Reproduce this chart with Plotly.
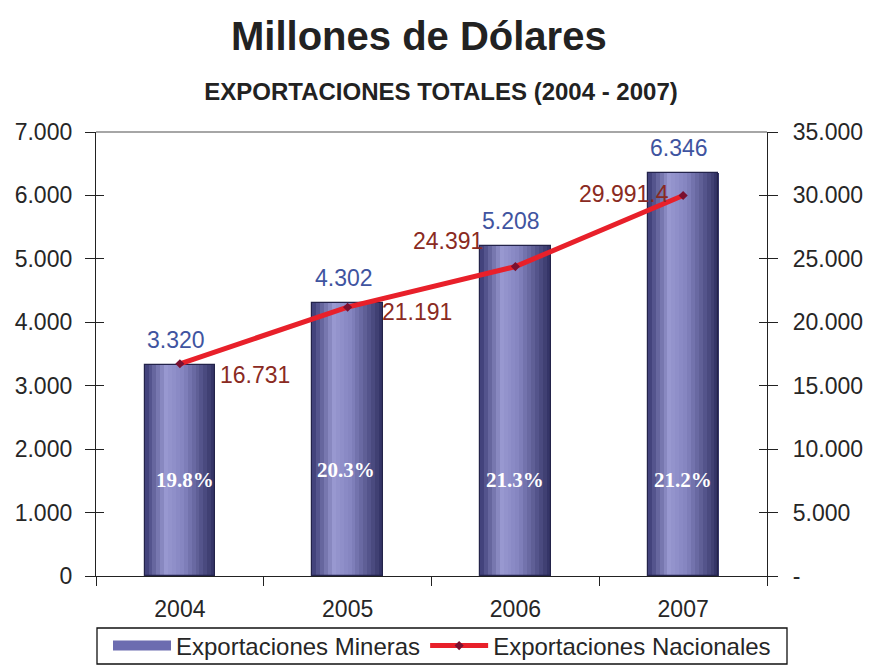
import plotly.graph_objects as go

# ---- data ----
years = ["2004", "2005", "2006", "2007"]
mineras = [3320, 4302, 5208, 6346]
nacionales = [16731, 21191, 24391, 29991.4]
mineras_labels = ["3.320", "4.302", "5.208", "6.346"]
nacionales_labels = ["16.731", "21.191", "24.391", "29.991.4"]
share_labels = ["19.8%", "20.3%", "21.3%", "21.2%"]
left_ticks = [0, 1000, 2000, 3000, 4000, 5000, 6000, 7000]
left_ticktext = ["0", "1.000", "2.000", "3.000", "4.000", "5.000", "6.000", "7.000"]
right_ticks = [0, 5000, 10000, 15000, 20000, 25000, 30000, 35000]
right_ticktext = ["-", "5.000", "10.000", "15.000", "20.000", "25.000", "30.000", "35.000"]

# ---- styles ----
BAR_W = 0.42
N_STRIPS = 18
stops = [(0.0, (58, 58, 115)), (0.3, (152, 152, 208)), (0.55, (132, 132, 192)), (1.0, (48, 48, 98))]


def grad(t):
    for (t0, c0), (t1, c1) in zip(stops[:-1], stops[1:]):
        if t0 <= t <= t1:
            f = (t - t0) / (t1 - t0)
            return "rgb(%d,%d,%d)" % tuple(round(a + (b - a) * f) for a, b in zip(c0, c1))
    return "rgb(%d,%d,%d)" % stops[-1][1]


FONT = "Liberation Sans, Arial, sans-serif"
TXT = "#262626"
nac_anchor = ["left", "left", "right", "right"]
nac_xshift = [38, 32, -30, -12]
nac_yshift = [-11, -5, 26, 2]
share_yshift = [96, 106, 96, 96]
share_xshift = [5, -2, 0, 0]

fig = go.Figure()

sw = BAR_W / N_STRIPS
for i in range(N_STRIPS):
    fig.add_trace(go.Bar(
        x=years, y=mineras, width=sw * 1.05, offset=-BAR_W / 2 + i * sw,
        marker=dict(color=grad((i + 0.5) / N_STRIPS), line=dict(width=0)),
        showlegend=False, hoverinfo="skip"))
fig.add_trace(go.Bar(
    x=years, y=mineras, width=BAR_W, offset=-BAR_W / 2,
    marker=dict(color="rgba(0,0,0,0)", line=dict(color="#23234a", width=1.2)),
    name="Exportaciones Mineras", showlegend=False))

# legend swatch for the bars (thick line looks like the flat bar swatch)
fig.add_trace(go.Scatter(
    x=[None], y=[None], mode="lines", name="Exportaciones Mineras",
    line=dict(color="#6c6cb0", width=12), showlegend=True))

fig.add_trace(go.Scatter(
    x=years, y=nacionales, mode="lines+markers", name="Exportaciones Nacionales",
    line=dict(color="#e8202a", width=5),
    marker=dict(symbol="diamond", size=7, color="#7a1030"),
    yaxis="y2"))

# invisible traces carrying the inside-tick overlay axes
fig.add_trace(go.Scatter(x=years, y=mineras, mode="markers", marker=dict(opacity=0),
                         showlegend=False, hoverinfo="skip", yaxis="y3"))
fig.add_trace(go.Scatter(x=years, y=nacionales, mode="markers", marker=dict(opacity=0),
                         showlegend=False, hoverinfo="skip", yaxis="y4"))

ann = []
for i, (v, t) in enumerate(zip(mineras, mineras_labels)):
    ann.append(dict(x=i, y=v, xref="x", yref="y", text=t, showarrow=False,
                    yshift=25, xshift=-4, font=dict(family=FONT, size=23, color="#3f54a0")))
for i, (v, t, a, xs, ys) in enumerate(zip(nacionales, nacionales_labels, nac_anchor, nac_xshift, nac_yshift)):
    ann.append(dict(x=i, y=v, xref="x", yref="y2", text=t, showarrow=False,
                    xanchor=a, xshift=xs, yshift=ys,
                    font=dict(family=FONT, size=23, color="#8a2a22")))
for i, (t, ys, xs) in enumerate(zip(share_labels, share_yshift, share_xshift)):
    ann.append(dict(x=i, y=0, xref="x", yref="y", text="<b>%s</b>" % t, showarrow=False,
                    yshift=ys, xshift=xs,
                    font=dict(family="Liberation Serif, Times New Roman, serif", size=21, color="white")))
ann.append(dict(x=(419 - 96) / 671, y=1.216, xref="paper", yref="paper", xanchor="center",
                yanchor="middle", showarrow=False, text="<b>Millones de Dólares</b>",
                font=dict(family=FONT, size=40, color="#222222")))

fig.update_layout(
    width=874, height=667,
    margin=dict(l=96, r=107, t=132, b=91),
    paper_bgcolor="white", plot_bgcolor="white",
    barmode="overlay", bargap=0,
    showlegend=True,
    legend=dict(orientation="h", xref="container", yref="container",
                x=442 / 874, xanchor="center", y=(667 - 646) / 667, yanchor="middle",
                bgcolor="rgba(0,0,0,0)", borderwidth=0, font=dict(family=FONT, size=24, color=TXT),
                itemwidth=58, tracegroupgap=0, traceorder="normal"),
    xaxis=dict(type="category", tickson="boundaries", ticks="outside", ticklen=9, tickwidth=1.3,
               tickcolor="#222222", showline=True, linecolor="#222222", linewidth=1.3,
               showgrid=False, tickfont=dict(family=FONT, size=23, color=TXT),
               ticklabelstandoff=12, range=[-0.5, 3.5], automargin=False),
    yaxis=dict(range=[0, 7000], tickvals=left_ticks, ticktext=left_ticktext, ticks="outside",
               ticklen=10, tickwidth=1.3, tickcolor="#222222", showline=True, linecolor="#222222",
               linewidth=1.3, showgrid=False, zeroline=False, ticklabelstandoff=8, automargin=False,
               tickfont=dict(family=FONT, size=23, color=TXT)),
    yaxis2=dict(range=[0, 35000], tickvals=right_ticks, ticktext=right_ticktext, overlaying="y",
                side="right", ticks="outside", ticklen=10, tickwidth=1.3, tickcolor="#222222",
                showline=True, linecolor="#222222", linewidth=1.3, showgrid=False, zeroline=False,
                ticklabelstandoff=10, automargin=False, tickfont=dict(family=FONT, size=23, color=TXT)),
    yaxis3=dict(range=[0, 7000], tickvals=left_ticks, overlaying="y", side="left", ticks="inside",
                ticklen=8, tickwidth=1.3, tickcolor="#222222", showticklabels=False,
                showline=False, showgrid=False, zeroline=False),
    yaxis4=dict(range=[0, 35000], tickvals=right_ticks, overlaying="y", side="right", ticks="inside",
                ticklen=8, tickwidth=1.3, tickcolor="#222222", showticklabels=False,
                showline=False, showgrid=False, zeroline=False),
    title=dict(text="<b>EXPORTACIONES TOTALES (2004 - 2007)</b>", x=441 / 874, xanchor="center",
               y=(667 - 92) / 667, yanchor="middle",
               font=dict(family=FONT, size=24, color="#222222")),
    annotations=ann,
    shapes=[
        dict(type="line", xref="paper", yref="paper", x0=0, x1=1, y0=1, y1=1,
             line=dict(color="#888888", width=1.3)),
        # legend frame
        dict(type="rect", xref="paper", yref="paper", x0=(97 - 96) / 671, x1=(787 - 96) / 671,
             y0=(576 - 664) / 444, y1=(576 - 628) / 444, line=dict(color="#111111", width=1.3),
             fillcolor="rgba(0,0,0,0)", layer="above"),
    ],
)

fig.write_html("out.html")
